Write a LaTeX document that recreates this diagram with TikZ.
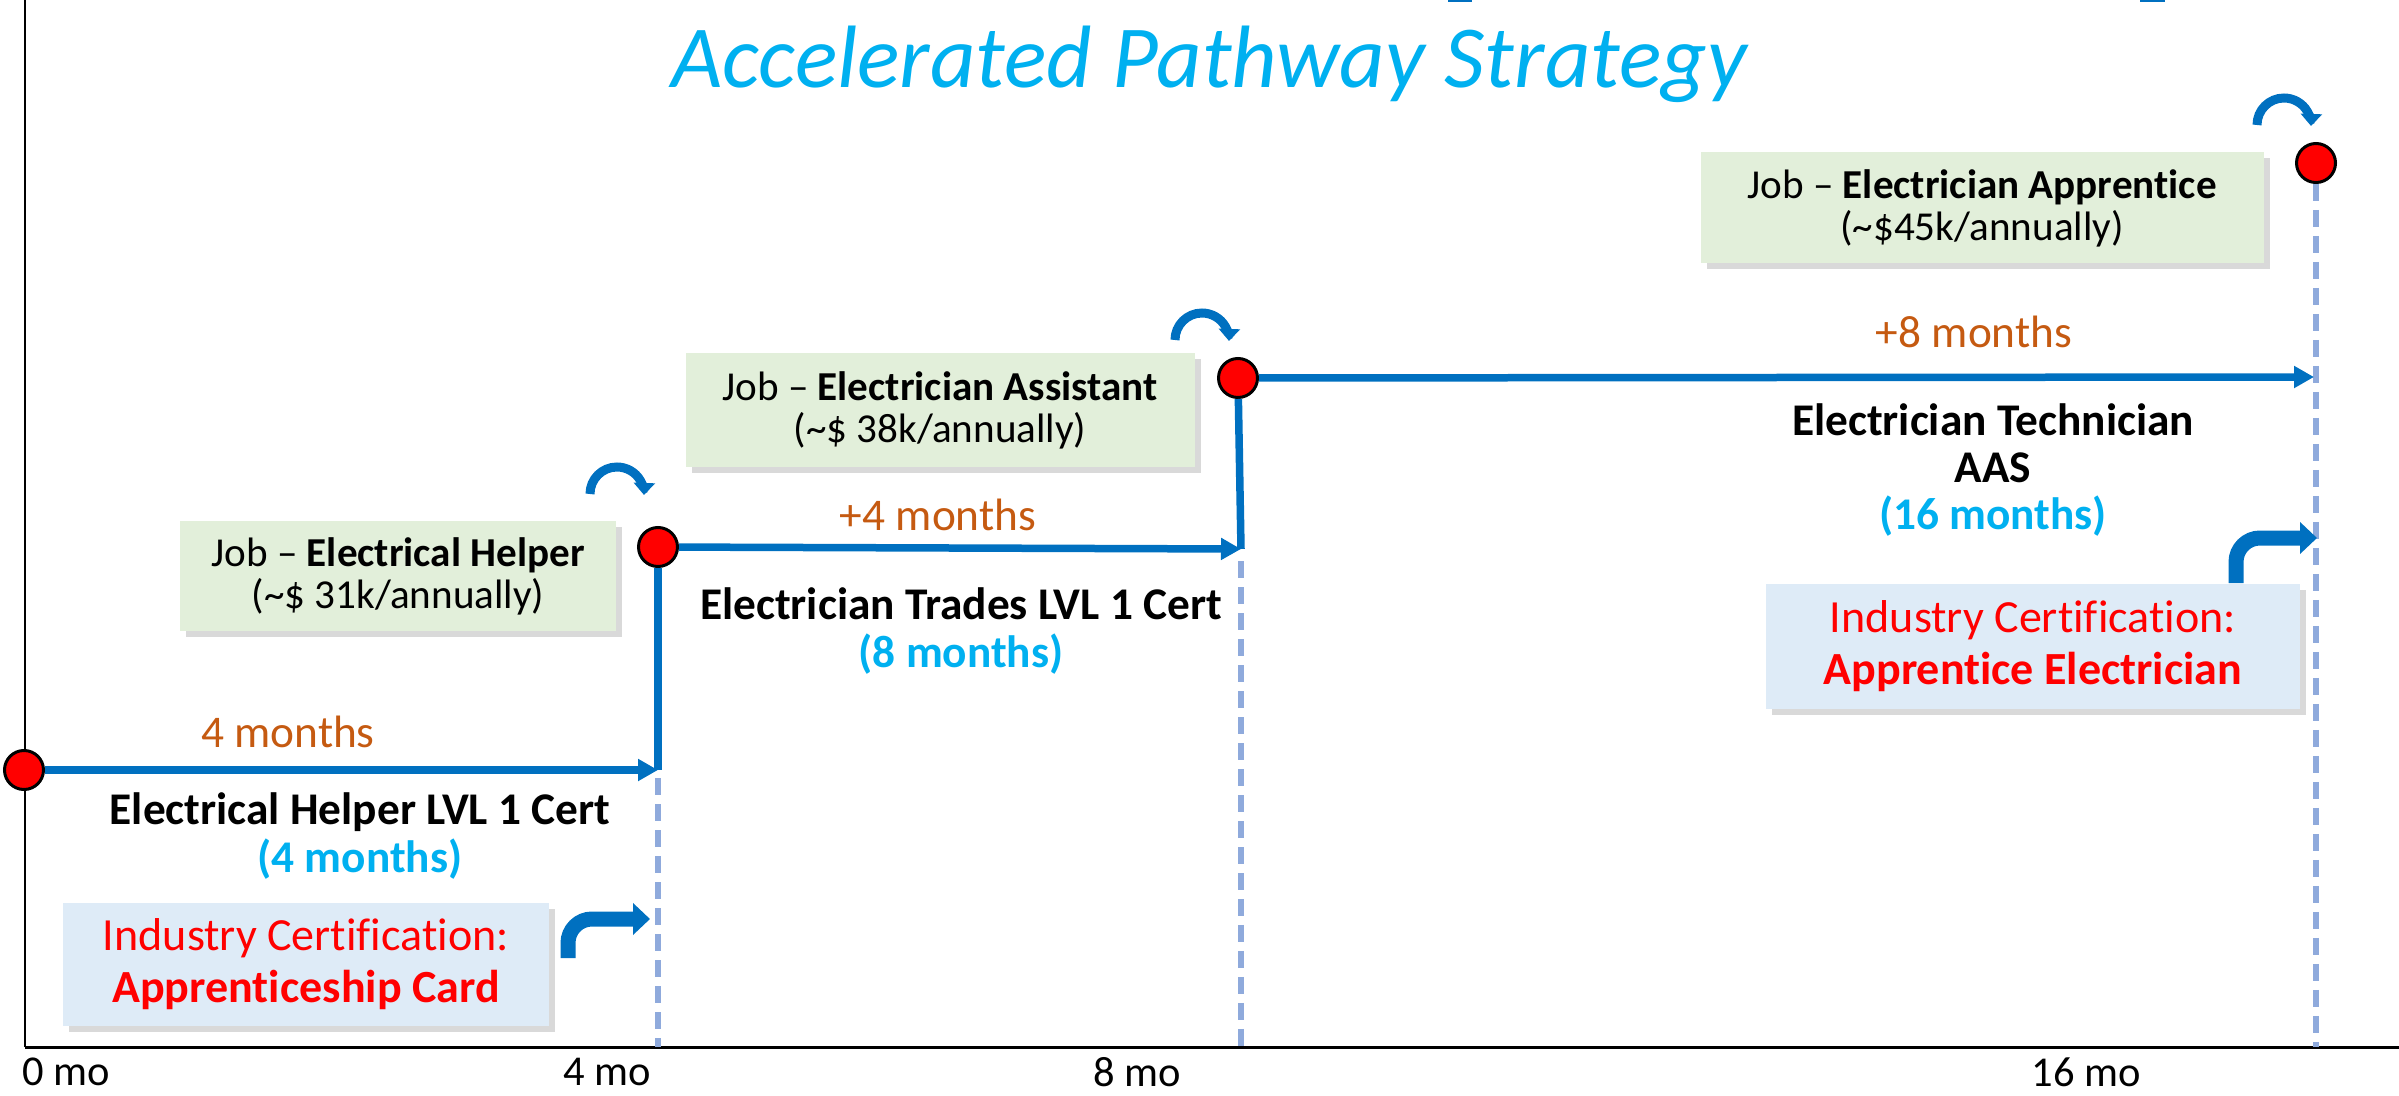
\documentclass[tikz,border=0pt]{standalone}
\usepackage{fontspec}
\setmainfont{Carlito}[Ligatures=NoCommon]
\usepackage{tikz}
\usetikzlibrary{arrows.meta,shadows}
\definecolor{pathblue}{RGB}{0,112,192}
\definecolor{guideblue}{RGB}{143,170,220}
\definecolor{monthorange}{RGB}{197,90,17}
\definecolor{skyblue}{RGB}{0,176,240}
\definecolor{jobgreen}{RGB}{226,239,218}
\definecolor{certblue}{RGB}{222,235,247}

\begin{document}
\begin{tikzpicture}[x=0.1mm, y=0.1mm,
  axis/.style={draw=black, line width=0.25mm},
  stepline/.style={draw=pathblue, line width=0.75mm},
  stepto/.style={stepline, -{Triangle[length=2mm, width=2.1mm]}},
  guide/.style={draw=guideblue, line width=0.6mm, dash pattern=on 1.7mm off 0.9mm},
  hook/.style={draw=pathblue, line width=0.9mm, -{Triangle[length=1.2mm, width=2.1mm]}},
  turnarrow/.style={draw=pathblue, line width=1.5mm, rounded corners=2.4mm,
               -{Triangle[length=1.7mm, width=3.1mm]}},
  dot/.style={circle, fill=red, draw=black, line width=0.3mm, minimum size=3.9mm, inner sep=0},
  card/.style={align=center, inner sep=0,
               drop shadow={shadow xshift=0.6mm, shadow yshift=-0.6mm, fill=black!50, opacity=0.3}},
  jobbox/.style={card, fill=jobgreen, font=\fontsize{11.7}{11.9}\selectfont},
  certbox/.style={card, fill=certblue, text=red, font=\fontsize{13.1}{14.8}\selectfont},
  course/.style={align=center, font=\fontsize{12.9}{13.4}\selectfont\bfseries},
  months/.style={text=monthorange, font=\fontsize{12.9}{13.4}\selectfont},
  tick/.style={font=\fontsize{12.1}{12.1}\selectfont},
]
\useasboundingbox (0,0) rectangle (2399,1095);

% ---- axes
\coordinate (o) at (25,48);
\draw[axis] (o) -- (25,1095);
\draw[axis, line width=0.3mm] (o) -- (2399,48);
\node[tick] (m0)  at (66,23)   {0 mo};
\node[tick] (m4)  at (607,23)  {4 mo};
\node[tick] (m8)  at (1137,23) {8 mo};
\node[tick] (m16) at (2086,23) {16 mo};

\fill[pathblue] (1448,1093) rectangle (1472,1095);
\fill[pathblue] (2140,1093) rectangle (2165,1095);

\node[anchor=base, text=skyblue, font=\fontsize{25.2}{25.2}\selectfont\itshape] (title)
  at (1209,1007) {Accelerated Pathway Strategy};

% ---- milestones and the step path between them
\node[dot] (d0) at (24,325) {};
\node[dot] (d1) at (658,548) {};
\node[dot] (d2) at (1238,717) {};
\node[dot] (d3) at (2316,932) {};
\coordinate (t1) at (658,325);
\coordinate (t2) at (1241,546);
\coordinate (t3) at (2314,718);

\draw[guide] ([yshift=-0.8mm]t1) -- (t1 |- o);
\draw[guide] ([yshift=-1.2mm]t2) -- (t2 |- o);
\draw[guide] (d3.south) -- (d3 |- o);

\draw[stepto] (d0) -- (t1);
\draw[stepline] (t1) -- (d1);
\draw[stepto] (d1) -- (t2);
\draw[stepline] (t2) -- (d2);
\draw[stepto] (d2) -- (t3);

\node[months] (p1) at (288,363)  {4 months};
\node[months] (p2) at (938,580)  {+4 months};
\node[months] (p3) at (1974,763) {+8 months};

\node[course] (c1) at (360,259)  {Electrical Helper LVL 1 Cert\\\textcolor{skyblue}{(4 months)}};
\node[course] (c2) at (961,464)  {Electrician Trades LVL 1 Cert\\\textcolor{skyblue}{(8 months)}};
\node[course] (c3) at (1993,625) {Electrician Technician\\AAS\\\textcolor{skyblue}{(16 months)}};

% ---- jobs reached at each step
\node[jobbox, minimum width=43.6mm, minimum height=11mm] (j1) at (398,519)
  {Job -- \textbf{Electrical Helper}\\(\textasciitilde\$ 31k/annually)};
\node[jobbox, minimum width=50.9mm, minimum height=11.4mm] (j2) at (940,685)
  {Job -- \textbf{Electrician Assistant}\\(\textasciitilde\$ 38k/annually)};
\node[jobbox, minimum width=56.3mm, minimum height=11.1mm] (j3) at (1982,887)
  {Job -- \textbf{Electrician Apprentice}\\(\textasciitilde\$45k/annually)};

\foreach \h/\hx/\hy in {h1/617/601, h2/1202/755, h3/2284/970} {
  \coordinate (\h) at (\hx,\hy);
  \draw[hook] ([xshift=-2.7mm]\h) arc[start angle=180, end angle=-2, radius=2.7mm];
}

% ---- certifications
\node[certbox, minimum width=48.6mm, minimum height=12.3mm] (k1) at (306,131)
  {Industry Certification:\\\textbf{Apprenticeship Card}};
\node[certbox, minimum width=53.4mm, minimum height=12.5mm] (k2) at (2033,449)
  {Industry Certification:\\\textbf{Apprentice Electrician}};

\coordinate (b1) at (568,137);
\coordinate (b1t) at (650,176);
\coordinate (b2) at (2236,512);
\coordinate (b2t) at (2317,557);
\draw[turnarrow] (b1) |- (b1t);
\draw[turnarrow] (b2) |- (b2t);
\end{tikzpicture}
\end{document}
